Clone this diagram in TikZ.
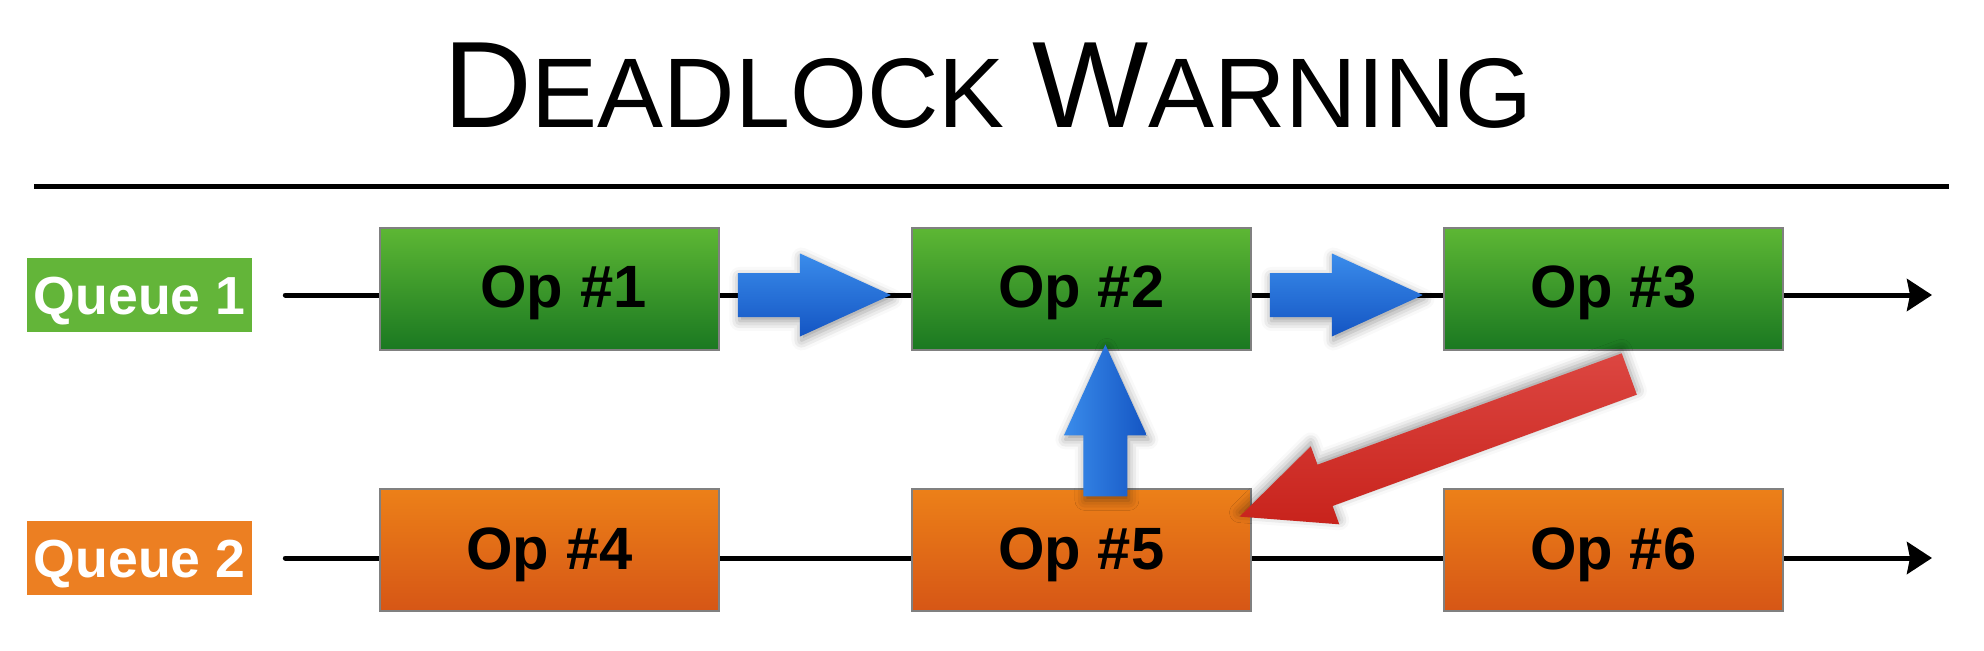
\documentclass[tikz,border=0pt]{standalone}
\usepackage{fontspec}
\setmainfont{Liberation Sans}
\usetikzlibrary{positioning,calc,arrows.meta,shadows.blur}
\definecolor{qgreen}{HTML}{63B539}
\definecolor{qorange}{HTML}{EC7F22}
\definecolor{greentop}{HTML}{5DB734}
\definecolor{greenbot}{HTML}{1A7821}
\definecolor{orangetop}{HTML}{EC8018}
\definecolor{orangebot}{HTML}{D65616}
\definecolor{bluelight}{HTML}{3A8CEB}
\definecolor{bluedark}{HTML}{1455C3}
\definecolor{reddark}{HTML}{C8231C}
\definecolor{redlight}{HTML}{DC4641}
\definecolor{opedge}{HTML}{808080}
\newcommand{\titlebig}{\fontsize{70}{84}\selectfont}
\newcommand{\titlesmall}{\fontsize{56.3}{68}\selectfont}
\tikzset{
  queuebox/.style={minimum width=4.5cm, minimum height=1.48cm, inner sep=0pt,
    text=white, text height=21.8pt, text depth=0pt,
    font=\fontsize{30.5}{31}\selectfont\bfseries},
  opbox/.style={draw=opedge, line width=0.04cm, minimum width=6.78cm,
    minimum height=2.44cm, inner sep=0pt, text height=21.6pt, text depth=0pt,
    font=\fontsize{34}{35}\selectfont\bfseries},
  greenop/.style={opbox, top color=greentop, bottom color=greenbot},
  orangeop/.style={opbox, top color=orangetop, bottom color=orangebot},
  queueline/.style={line width=0.1cm, line cap=round,
    -{Stealth[length=0.5cm, width=0.64cm, inset=0.06cm]}},
  bluearrow/.style={top color=bluelight, bottom color=bluedark,
    blur shadow={shadow xshift=0.03cm, shadow yshift=-0.08cm,
      shadow blur radius=0.2cm, shadow opacity=40}},
}
\begin{document}
\begin{tikzpicture}[x=0.02cm, y=0.02cm]
    \useasboundingbox (0,0) rectangle (1984,650);
    %title
    \node[anchor=base, font=\titlesmall] (title) at (988,522)
      {{\titlebig D}EADLOCK {\titlebig W}ARNING};
    \draw[line width=0.1cm] (34,463) -- (1949,463);
    %queues
    \node[queuebox, fill=qgreen] (q1) at (139.5,355) {Queue 1};
    \node[queuebox, fill=qorange] (q2) at (139.5,92) {Queue 2};
    \coordinate (end1) at (1932,355);
    \coordinate (end2) at (1932,92);
    \draw[queueline] ($(q1.east)+(33,0)$) -- (end1);
    \draw[queueline] ($(q2.east)+(33,0)$) -- (end2);
    %operations
    \node[greenop] (op1) at (549.5,361) {\hspace*{0.56cm}Op \#1};
    \node[greenop, right=3.82cm of op1] (op2) {Op \#2};
    \node[greenop, right=3.82cm of op2] (op3) {Op \#3};
    \node[orangeop, below=2.75cm of op1] (op4) {Op \#4};
    \node[orangeop, below=2.75cm of op2] (op5) {Op \#5};
    \node[orangeop, below=2.75cm of op3] (op6) {Op \#6};
    %blue arrows
    \shade[bluearrow] ($(op1.east)+(18,16)$) -- ++(62,0) -- ++(0,19.5)
      -- ++(91,-41.5) -- ++(-91,-41.5) -- ++(0,19.5) -- ++(-62,0) -- cycle;
    \shade[bluearrow] ($(op2.east)+(18,16)$) -- ++(62,0) -- ++(0,19.5)
      -- ++(91,-41.5) -- ++(-91,-41.5) -- ++(0,19.5) -- ++(-62,0) -- cycle;
    \shade[bluearrow, left color=bluelight, right color=bluedark]
      ($(op5.north)+(2,-8)$) -- ++(0,61) -- ++(-19.5,0) -- ++(41.5,91)
      -- ++(41.5,-91) -- ++(-19.5,0) -- ++(0,-61) -- cycle;
    %red arrow
    \begin{scope}[shift={($(op3.south)+(16,-23)$)}, rotate=200.1]
      \shade[top color=redlight, bottom color=reddark,
        blur shadow={shadow xshift=0cm, shadow yshift=0.08cm,
          shadow blur radius=0.2cm, shadow opacity=40}]
        (0,22) -- (324,22) -- (324,41.5) -- (415,0) -- (324,-41.5)
        -- (324,-22) -- (0,-22) -- cycle;
    \end{scope}
\end{tikzpicture}
\end{document}
